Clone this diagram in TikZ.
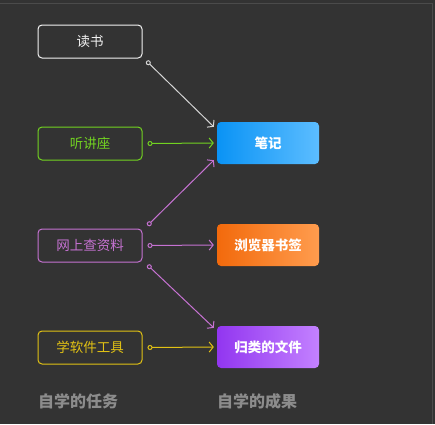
\documentclass[tikz,border=0pt]{standalone}
\usepackage{fontspec}
\setmainfont{Noto Sans CJK SC}
\usetikzlibrary{arrows.meta,calc}
\definecolor{bg}{HTML}{333333}
\definecolor{wtxt}{HTML}{F2F2F2}
\definecolor{grn}{HTML}{72D321}
\definecolor{mag}{HTML}{C672D2}
\definecolor{ylw}{HTML}{E2C214}
\definecolor{lbl}{HTML}{8C8C8C}
\definecolor{bluea}{HTML}{0A93F5}
\definecolor{blueb}{HTML}{5CBDFF}
\definecolor{orga}{HTML}{F26A0C}
\definecolor{orgb}{HTML}{FF9C4E}
\definecolor{pura}{HTML}{9236F0}
\definecolor{purb}{HTML}{C381FF}
\begin{document}
\begin{tikzpicture}[x=1pt,y=-1pt,
  taskbox/.style={draw,line width=1pt,rounded corners=4pt,minimum width=104pt,minimum height=33pt,inner sep=0pt,font=\fontsize{13.5}{15}\selectfont},
  resbox/.style={rounded corners=4pt,minimum width=102pt,minimum height=42pt,inner sep=0pt,text=white,font=\bfseries\fontsize{13.5}{15}\selectfont},
  conn/.style={line width=1pt,{Circle[open,length=5pt,width=5pt,fill=bg]}-{Straight Barb[length=4pt,width=10pt,line width=1pt]}},
  foot/.style={text=lbl,font=\bfseries\fontsize{16}{18}\selectfont,anchor=west,inner sep=0pt}]
\fill[bg] (0,0) rectangle (435,424);
\useasboundingbox (0,0) rectangle (435,424);
\draw[line width=0.8pt,color=white!12!bg] (0,3) -- (432,3) -- (432,424);
% task boxes
\node[taskbox,draw=wtxt,text=wtxt] (dushu) at (90,41.5) {读书};
\node[taskbox,draw=grn,text=grn] (ting) at (90,143.5) {听讲座};
\node[taskbox,draw=mag,text=mag] (wang) at (90,245.5) {网上查资料};
\node[taskbox,draw=ylw,text=ylw] (xue) at (90,347.5) {学软件工具};
% result boxes
\node[resbox,left color=bluea,right color=blueb] (biji) at (268,143) {笔记};
\node[resbox,left color=orga,right color=orgb] (liulan) at (268,245) {浏览器书签};
\node[resbox,left color=pura,right color=purb] (gui) at (268,347) {归类的文件};
% connectors
\draw[conn,draw=wtxt!85!bg] ($(dushu.south east)+(4,2.5)$) -- ($(biji.north west)+(-3,5)$);
\draw[conn,draw=grn] ($(ting.east)+(5,0)$) -- ($(biji.west)+(-3,0)$);
\draw[conn,draw=mag] ($(wang.north east)+(5,-3)$) -- ($(biji.south west)+(-3,-4)$);
\draw[conn,draw=mag] ($(wang.east)+(5,0)$) -- ($(liulan.west)+(-3,0)$);
\draw[conn,draw=mag] ($(wang.south east)+(5,2.5)$) -- ($(gui.north west)+(-3,2)$);
\draw[conn,draw=ylw] ($(xue.east)+(5,0)$) -- ($(gui.west)+(-3,0)$);
% footers
\node[foot] (task) at (38,401) {自学的任务};
\node[foot] (res) at (217,401) {自学的成果};
\end{tikzpicture}
\end{document}
